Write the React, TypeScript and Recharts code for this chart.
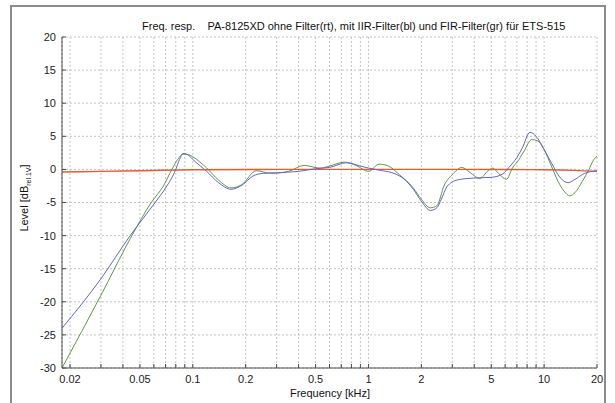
import { CartesianGrid, Line, LineChart, XAxis, YAxis } from "recharts";

// frequencies in kHz, levels in dB rel 1V
const redFreq = [0.018, 0.03, 0.05, 0.1, 0.3, 1, 3, 10, 15, 20];
const redLevel = [-0.4, -0.3, -0.2, -0.05, 0, 0, 0, -0.05, -0.15, -0.3];

const blueFreq = [
  0.018, 0.03, 0.044, 0.061, 0.07, 0.08, 0.084, 0.088, 0.095, 0.1, 0.12, 0.14, 0.165, 0.19, 0.22, 0.25, 0.3, 0.4, 0.5,
  0.6, 0.75, 0.9, 1, 1.2, 1.4, 1.6, 1.8, 2, 2.25, 2.45, 2.6, 2.8, 3.2, 4, 5, 5.8, 6.3, 7, 7.5, 8.3, 9, 10, 11, 12, 13,
  13.7, 15, 17, 20,
];
const blueLevel = [
  -24, -16.5, -10, -5, -2.8, 0, 1.5, 2.4, 2.1, 1.5, -0.3, -2, -3, -2.4, -1, -0.6, -0.5, -0.3, 0.1, 0.3, 1, 0.5, 0.2,
  -0.2, -0.6, -1.5, -3, -4.8, -6.2, -5.8, -4.5, -2.6, -1.6, -1.3, -1.2, -0.7, 0.3, 1.8, 3.2, 5.6, 5, 3, 1, -0.8, -1.8,
  -2, -1.5, -0.6, -0.2,
];

const greenFreq = [
  0.018, 0.03, 0.045, 0.058, 0.068, 0.076, 0.082, 0.088, 0.095, 0.1, 0.12, 0.14, 0.165, 0.19, 0.23, 0.28, 0.35, 0.43,
  0.53, 0.6, 0.73, 0.85, 1, 1.15, 1.3, 1.5, 1.8, 2, 2.25, 2.45, 2.7, 3, 3.4, 3.8, 4.3, 4.8, 5.1, 5.5, 6.1, 6.6, 7.2,
  7.7, 8.5, 9.2, 10, 11, 12, 13, 14, 15, 16.5, 18, 19, 20,
];
const greenLevel = [
  -30, -19, -10, -5, -2.5, 0, 1.5, 2.3, 2.2, 1.9, 0.2, -1.6, -2.8, -2.3, -0.2, -0.6, -0.3, 0.6, 0.2, 0.5, 1.1, 0.6,
  -0.3, 0.8, 0.5, -0.8, -2.8, -4.5, -5.8, -5.5, -2.4, -0.8, 0.3, -0.5, -1.4, -0.2, 0.2, -0.6, -1.5, 0.2, 1.5, 2.8, 4.5,
  4.3, 3, 0.5, -1.8, -3.3, -4, -3.5, -1.8, 0, 1.3, 2,
];

const xTicks = [
  0.02, 0.03, 0.04, 0.05, 0.06, 0.07, 0.08, 0.09, 0.1, 0.2, 0.3, 0.4, 0.5, 0.6, 0.7, 0.8, 0.9, 1, 2, 3, 4, 5, 6, 7, 8,
  9, 10, 20,
];
const xLabels = [0.02, 0.05, 0.1, 0.2, 0.5, 1, 2, 5, 10, 20];
const yTicks = [-30, -25, -20, -15, -10, -5, 0, 5, 10, 15, 20];

const toPoints = (fs: number[], ls: number[]) => fs.map((f, i) => ({ f, v: ls[i] }));
const redData = toPoints(redFreq, redLevel);
const blueData = toPoints(blueFreq, blueLevel);
const greenData = toPoints(greenFreq, greenLevel);

const font = "'Liberation Sans', Arial, sans-serif";
const frame = "#4a4a4a";
const tickStyle = { fontSize: 11, fill: "#222", fontFamily: font };

export default function App() {
  return (
    <div style={{ position: "absolute", left: 0, top: 0, width: 615, height: 403, background: "#fff", overflow: "hidden" }}>
      <div
        style={{
          position: "absolute",
          left: 10,
          top: 5,
          width: 592,
          height: 420,
          border: "2px solid #8c8c8c",
        }}
      />
      <div
        style={{
          position: "absolute",
          left: 142,
          top: 20,
          fontFamily: font,
          fontSize: 11,
          color: "#111",
          whiteSpace: "pre",
        }}
      >
        {"Freq. resp.    PA-8125XD ohne Filter(rt), mit IIR-Filter(bl) und FIR-Filter(gr) für ETS-515"}
      </div>
      <div
        style={{
          position: "absolute",
          left: 25,
          top: 198,
          transform: "translate(-50%, -50%) rotate(-90deg)",
          fontFamily: font,
          fontSize: 11,
          color: "#111",
          whiteSpace: "nowrap",
        }}
      >
        Level [dB<sub style={{ fontSize: 7 }}>rel 1V</sub>]
      </div>
      <div
        style={{
          position: "absolute",
          left: 330,
          top: 393,
          transform: "translate(-50%, -50%)",
          fontFamily: font,
          fontSize: 11,
          color: "#111",
          whiteSpace: "nowrap",
        }}
      >
        Frequency [kHz]
      </div>
      <div style={{ position: "absolute", left: 0, top: 0 }}>
        <LineChart width={615} height={403} margin={{ top: 37, right: 18, bottom: 0, left: 0 }}>
          <CartesianGrid stroke="#c4c4c4" strokeDasharray="2 2" />
          <XAxis
            dataKey="f"
            type="number"
            scale="log"
            domain={[0.018, 20]}
            allowDataOverflow
            ticks={xTicks}
            interval={0}
            height={35}
            tickSize={-4}
            tickMargin={11}
            stroke={frame}
            tick={tickStyle}
            tickFormatter={(v: number) => (xLabels.includes(v) ? String(v) : "")}
          />
          <XAxis
            xAxisId="top"
            orientation="top"
            dataKey="f"
            type="number"
            scale="log"
            domain={[0.018, 20]}
            allowDataOverflow
            ticks={xTicks}
            interval={0}
            height={0}
            tickSize={-4}
            stroke={frame}
            tickFormatter={() => ""}
          />
          <YAxis
            type="number"
            domain={[-30, 20]}
            ticks={yTicks}
            interval={0}
            width={62}
            tickSize={-4}
            tickMargin={10}
            stroke={frame}
            tick={tickStyle}
          />
          <YAxis
            yAxisId="right"
            orientation="right"
            type="number"
            domain={[-30, 20]}
            ticks={yTicks}
            interval={0}
            width={0}
            tickSize={-4}
            stroke={frame}
            tickFormatter={() => ""}
          />
          <Line data={redData} dataKey="v" type="monotone" stroke="#ea5a30" strokeWidth={1.4} dot={false} isAnimationActive={false} />
          <Line data={greenData} dataKey="v" type="monotone" stroke="#5f9a3c" strokeWidth={1} dot={false} isAnimationActive={false} />
          <Line data={blueData} dataKey="v" type="monotone" stroke="#6464d2" strokeWidth={1} dot={false} isAnimationActive={false} />
        </LineChart>
      </div>
    </div>
  );
}
